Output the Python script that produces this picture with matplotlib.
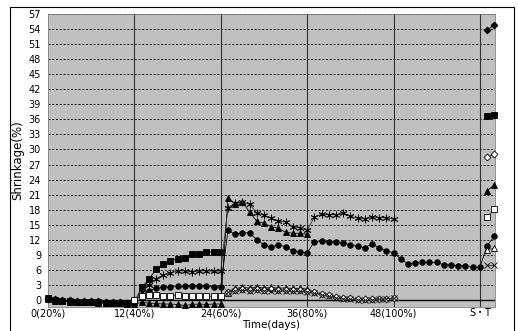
import matplotlib
matplotlib.use("Agg")
import matplotlib.pyplot as plt
import numpy as np
from matplotlib.patches import Rectangle

# x positions: days 0..60, S-T readings plotted at 61 and 62
TICK_POS = [0, 12, 24, 36, 48, 60]
TICK_LABELS = ["0(20%)", "12(40%)", "24(60%)", "36(80%)", "48(100%)", "S\u30fbT"]
ST_DAYS = [61, 62]

# filled diamond
dia_start = 0
dia_vals = [0.2, 0.1, 0.0, -0.1, -0.2, -0.2, -0.3, -0.3, -0.4, -0.4, -0.5, -0.6, -0.7]
dia_st = [53.8, 54.8]

# filled square
sq_start = 0
sq_vals = [0.3, 0.0, -0.2, -0.3, -0.4, -0.4, -0.5, -0.5, -0.6, -0.6, -0.7, -0.8, -0.5,
           2.5, 4.1, 6.1, 7.1, 7.8, 8.2, 8.4, 9.1, 9.2, 9.5, 9.6, 9.6]
sq_st = [36.6, 36.8]

# filled triangle
tri_start = 0
tri_vals = [0.1, -0.2, -0.3, -0.4, -0.4, -0.5, -0.5, -0.6, -0.6, -0.7, -0.7, -0.8, -0.8,
            -0.5, -0.6, -0.7, -0.8, -0.8, -0.9, -1.1, -0.9, -0.8, -0.9, -0.8, -0.8,
            20.4, 19.1, 19.6, 17.5, 15.7, 15.3, 14.6, 14.3, 13.5, 13.3, 13.3, 13.1]
tri_st = [21.8, 22.9]

# filled circle (runs into the S-T readings)
circ_start = 12
circ_vals = [0.0, 1.0, 1.8, 2.3, 2.5, 2.6, 2.7, 2.7, 2.8, 2.8, 2.7, 2.6, 2.6,
             13.9, 13.1, 13.4, 13.4, 12.0, 11.0, 10.5, 11.0, 10.6, 9.8, 9.6, 9.4,
             11.6, 11.8, 11.6, 11.6, 11.3, 11.0, 10.7, 10.4, 11.2, 10.4, 9.8, 9.4,
             8.2, 7.2, 7.4, 7.5, 7.5, 7.5, 7.0, 7.0, 6.8, 6.8, 6.5, 6.5,
             10.8, 12.7]

# asterisk
ast_start = 12
ast_vals = [0.0, 1.5, 3.0, 4.2, 5.0, 5.4, 5.8, 5.8, 5.6, 5.8, 5.8, 5.7, 5.8,
            18.4, 19.3, 19.5, 19.1, 17.4, 16.9, 16.3, 15.7, 15.6, 14.6, 14.4, 13.9,
            16.5, 17.1, 17.0, 17.0, 17.3, 16.7, 16.3, 16.2, 16.6, 16.4, 16.4, 16.1]

# open square
osq_start = 12
osq_vals = [0.0, 0.8, 0.9, 0.9, 0.8, 0.8, 0.9, 0.8, 0.7, 0.8, 0.8, 0.7, 0.8]
osq_st = [16.5, 18.1]

# open triangle
otri_start = 25
otri_vals = [1.3, 2.3, 2.5, 2.4, 2.6, 2.4, 2.5, 2.4, 2.4, 2.3, 2.3, 2.2]
otri_st = [10.0, 10.3]

# open diamond
odia_start = 25
odia_vals = [1.6, 2.0, 2.1, 2.0, 2.2, 2.0, 2.1, 2.0, 2.0, 1.9, 1.9, 1.8,
             1.5, 1.2, 0.9, 0.6, 0.4, 0.3, 0.2, 0.1, 0.1, 0.2, 0.2, 0.3]
odia_st = [28.5, 29.0]

# cross
x_start = 25
x_vals = [1.5, 1.8, 1.9, 1.8, 1.9, 1.8, 1.8, 1.7, 1.8, 1.7, 1.7, 1.6,
          1.3, 1.0, 0.7, 0.4, 0.2, 0.1, 0.0, -0.1, 0.0, 0.1, 0.2, 0.3]
x_st = [7.0, 7.0]

plt.rcParams["font.family"] = ["DejaVu Sans", "Noto Sans CJK JP"]

fig = plt.figure(figsize=(5.18, 3.31), dpi=100)
ax = fig.add_axes([48 / 518, 1 - 307 / 331, 447 / 518, 293 / 331])
ax.set_facecolor("#C0C0C0")
ax.set_xlim(0, 62.1)
ax.set_ylim(-1.4, 57)

for y in range(3, 58, 3):
    ax.axhline(y, color="black", lw=0.6, ls=(0, (2.5, 2)), zorder=1)
for x in TICK_POS[1:]:
    ax.axvline(x, color="#303030", lw=0.8, zorder=1)
ax.axhline(0, color="black", lw=1.0, zorder=2)

def series(start, vals, marker, face, lc="black", ms=4):
    days = np.arange(start, start + len(vals))
    ax.plot(days, vals, color=lc, lw=0.6, marker=marker, ms=ms,
            mfc=face, mec="black", mew=0.6, zorder=3, clip_on=False)

star = (6, 2, 0)
series(dia_start, dia_vals, "D", "black", ms=3.5)
series(sq_start, sq_vals, "s", "black")
series(tri_start, tri_vals, "^", "black", ms=4.5)
series(circ_start, circ_vals, "o", "black")
series(ast_start, ast_vals, star, "none", lc="#303030", ms=5.5)
series(osq_start, osq_vals, "s", "white", lc="#303030")
series(otri_start, otri_vals, "^", "white", lc="#303030", ms=4.5)
series(odia_start, odia_vals, "D", "white", lc="#303030", ms=3.5)
series(x_start, x_vals, "x", "none", lc="#303030", ms=4.5)

series(ST_DAYS[0], dia_st, "D", "black", ms=3.5)
series(ST_DAYS[0], sq_st, "s", "black")
series(ST_DAYS[0], tri_st, "^", "black", ms=4.5)
series(ST_DAYS[0], osq_st, "s", "white", lc="#303030")
series(ST_DAYS[0], otri_st, "^", "white", lc="#303030", ms=4.5)
series(ST_DAYS[0], odia_st, "D", "white", lc="#303030", ms=3.5)
series(ST_DAYS[0], x_st, "x", "none", lc="#303030", ms=4.5)

ax.set_yticks(range(0, 58, 3))
ax.set_xticks(TICK_POS)
ax.set_xticklabels(TICK_LABELS)
ax.tick_params(axis="y", labelsize=7, length=0, pad=5)
ax.tick_params(axis="x", labelsize=7, length=0, pad=1)
for s in ax.spines.values():
    s.set_color("#808080")
    s.set_linewidth(0.6)
ax.set_ylabel("Shrinkage(%)", fontsize=8.5, labelpad=3)
ax.set_xlabel("Time(days)", fontsize=7.5, labelpad=1)

fig.patches.append(Rectangle((10 / 518, -0.01), 504 / 518, 1 - 7 / 331 + 0.01,
                             transform=fig.transFigure, fill=False,
                             edgecolor="black", lw=0.8))

fig.savefig("out.png", dpi=100)
